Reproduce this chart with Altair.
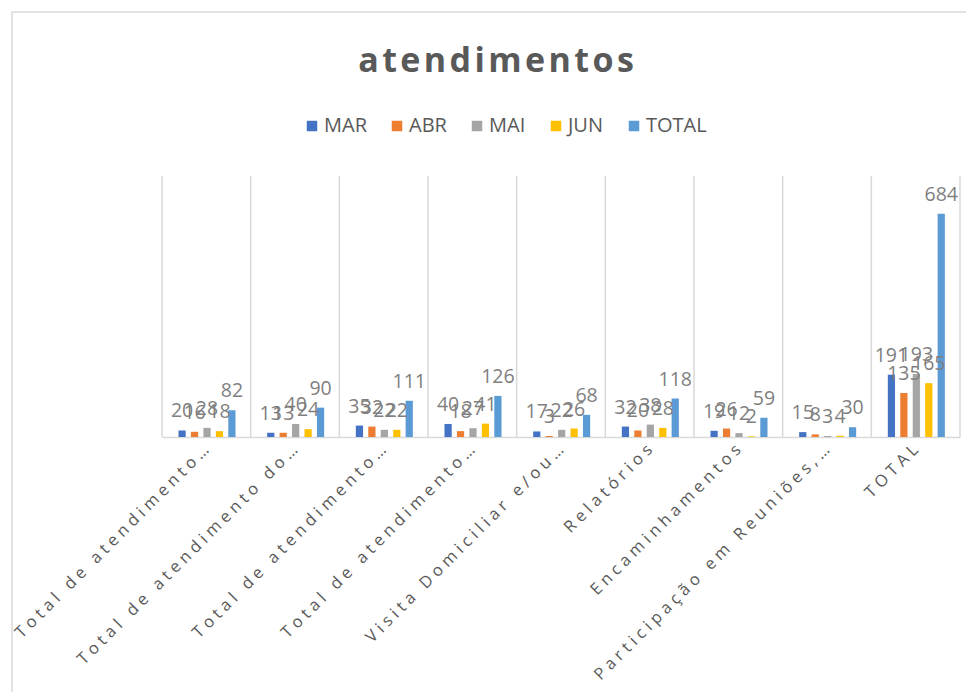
import altair as alt
import pandas as pd

categories = [
    "Total de atendimento…",
    "Total de atendimento do…",
    "Total de atendimento…",
    "Total de atendimento…",
    "Visita Domiciliar e/ou…",
    "Relatórios",
    "Encaminhamentos",
    "Participação em Reuniões,…",
    "TOTAL",
]
series = ["MAR", "ABR", "MAI", "JUN", "TOTAL"]
mar = [20, 13, 35, 40, 17, 32, 19, 15, 191]
abr = [16, 13, 32, 18, 3, 20, 26, 8, 135]
mai = [28, 40, 22, 27, 22, 38, 12, 3, 193]
jun = [18, 24, 22, 41, 26, 28, 2, 4, 165]
total = [82, 90, 111, 126, 68, 118, 59, 30, 684]
colors = ["#4472C4", "#ED7D31", "#A5A5A5", "#FFC000", "#5B9BD5"]
title_text = "atendimentos"

rows = []
for i in range(len(categories)):
    for s, vals in zip(series, [mar, abr, mai, jun, total]):
        rows.append({"idx": i, "serie": s, "valor": vals[i]})
df = pd.DataFrame(rows)
cats_df = pd.DataFrame({"idx": list(range(len(categories)))})

W, H = 798, 261
label_arr = "[" + ",".join("'" + c + "'" for c in categories) + "]"
label_expr = "join(split(" + label_arr + "[datum.value], ''), '\u2009\u200a')"

x = alt.X(
    "idx:O",
    scale=alt.Scale(paddingInner=0, paddingOuter=0),
    axis=alt.Axis(
        title=None,
        labelAngle=-45,
        labelExpr=label_expr,
        labelFontSize=16.5,
        labelColor="#595959",
        labelFont="Open Sans",
        ticks=False,
        domainColor="#d9d9d9",
        domainWidth=1.5,
        labelPadding=10,
        grid=False,
        labelLimit=500,
    ),
)
y = alt.Y("valor:Q", scale=alt.Scale(domain=[0, 800]), axis=None)
xoff = alt.XOffset(
    "serie:N",
    sort=series,
    scale=alt.Scale(range=[14, 76], paddingInner=0.42, paddingOuter=0.2),
)

base = alt.Chart(df)

bars = base.mark_bar().encode(
    x=x,
    y=y,
    xOffset=xoff,
    color=alt.Color(
        "serie:N",
        sort=series,
        scale=alt.Scale(domain=series, range=colors),
        legend=alt.Legend(
            title=None,
            orient="none",
            direction="horizontal",
            legendX=140,
            legendY=-60,
            symbolType="square",
            symbolSize=110,
            symbolStrokeWidth=0,
            labelFontSize=20,
            labelColor="#595959",
            labelFont="Open Sans",
            columnPadding=20,
            labelOffset=2,
        ),
    ),
)

labels = base.mark_text(
    baseline="bottom", dy=-9, fontSize=19.5, color="#7f7f7f", font="Open Sans"
).encode(x=x, y=y, xOffset=xoff, text="valor:Q")

seps = alt.Chart(cats_df).mark_rule(color="#d9d9d9", strokeWidth=1.5).encode(
    x=alt.X("idx:O", bandPosition=0), y=alt.value(0), y2=alt.value(H)
)
last_sep = alt.Chart(cats_df.head(1)).mark_rule(color="#d9d9d9", strokeWidth=1.5).encode(
    x=alt.value(W), y=alt.value(0), y2=alt.value(H)
)
frame = alt.Chart(cats_df.head(1)).mark_rect(
    fill=None, stroke="#d9d9d9", strokeWidth=1.5
).encode(
    x=alt.value(-150), x2=alt.value(806), y=alt.value(-164), y2=alt.value(522)
)

chart = (
    alt.layer(frame, seps, last_sep, bars, labels)
    .properties(
        width=W,
        height=H,
        padding={"left": 154, "top": 168, "right": 6, "bottom": 255},
        autosize=alt.AutoSizeParams(type="none"),
        title=alt.TitleParams(
            "\u200a".join(title_text),
            fontSize=34,
            fontWeight="bold",
            color="#595959",
            font="Open Sans",
            anchor="middle",
            dx=-65,
            offset=-68,
        ),
    )
    .configure_view(stroke=None)
)

chart.save("out.html", embed_options={"renderer": "svg", "actions": False})
